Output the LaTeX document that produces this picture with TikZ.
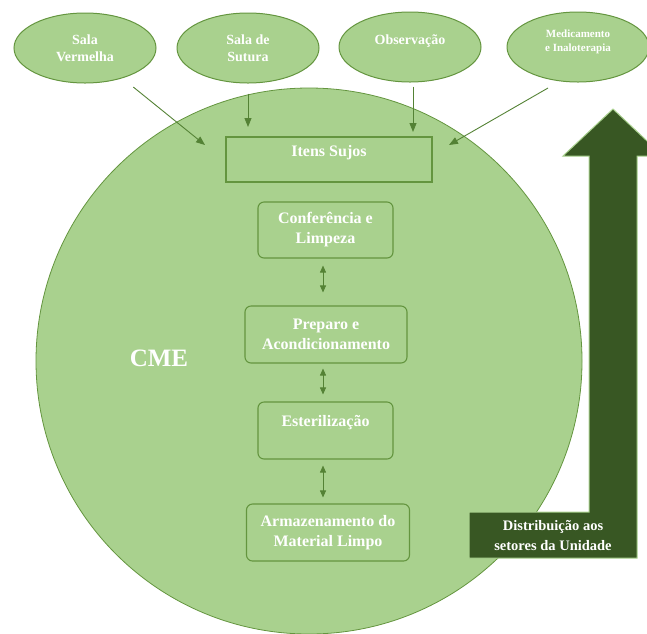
\documentclass[tikz,border=0pt]{standalone}
\usepackage{fontspec}
\setmainfont{Liberation Serif}
\usetikzlibrary{arrows.meta, shapes.geometric}
\definecolor{folha}{HTML}{A9D18E}
\definecolor{borda}{HTML}{64953F}
\definecolor{seta}{HTML}{548235}
\definecolor{escuro}{HTML}{385723}

\begin{document}
\begin{tikzpicture}[x=1pt, y=-1pt,
  setor/.style={draw=borda, fill=folha, ellipse, line width=1pt, minimum width=142pt, minimum height=70pt,
    text=white, align=center, font=\bfseries\fontsize{14}{17}\selectfont},
  etapa/.style={draw=borda, fill=folha, rounded corners=6pt, line width=1.1pt, minimum height=57pt,
    text=white, align=center, font=\bfseries\fontsize{16}{20}\selectfont},
  flow/.style={seta, line width=.9pt, -{Triangle[length=9pt,width=7pt]}},
  dflow/.style={seta, line width=.9pt, {Triangle[length=7pt,width=6pt]}-{Triangle[length=7pt,width=6pt]}}]

 \useasboundingbox (0,0) rectangle (647,633);

 % CME
 \draw[borda, fill=folha, line width=.8pt] (309,361) circle[radius=273pt];
 \node[text=white, font=\bfseries\fontsize{25}{30}\selectfont] (cme) at (159,358) {CME};

 % distribuicao
 \filldraw[escuro, draw=folha, line width=1pt] (637,558) -- (637,156) -- (663,156) -- (613,109) -- (563,156)
   -- (589,156) -- (589,512) -- (469,512) -- (469,558) -- cycle;
 \node[text=white, align=center, font=\bfseries\fontsize{14.5}{20}\selectfont] (dist) at (553,536)
   {Distribuição aos\\setores da Unidade};

 % setores
 \node[setor] (sv) at (85,48) {Sala\\Vermelha};
 \node[setor] (ss) at (248,48) {Sala de\\Sutura};
 \node[setor] (ob) at (410,47) {Observação\\[-2pt]\mbox{}};
 \node[setor, font=\bfseries\fontsize{11}{14}\selectfont] (md) at (578,47) {Medicamento\\e Inaloterapia\\[-2pt]\mbox{}};

 % etapas
 \node[etapa, rounded corners=0pt, minimum width=206pt, minimum height=45pt] (its) at (329,159.5) {Itens Sujos\\[-3pt]\mbox{}};
 \node[etapa, minimum width=135pt, minimum height=56pt] (conf) at (325.5,230) {Conferência e\\Limpeza};
 \node[etapa, minimum width=162pt] (prep) at (326,334.5) {Preparo e\\Acondicionamento};
 \node[etapa, minimum width=135pt] (est) at (325.5,430.5) {Esterilização\\\mbox{}};
 \node[etapa, minimum width=163pt] (arm) at (328,532.5) {Armazenamento do\\Material Limpo};

 \coordinate (in1) at (205,145);
 \coordinate (in2) at (248,127);
 \coordinate (in3) at (413,132);
 \coordinate (in4) at (449,145);
 \coordinate (m4) at (548,88);

 \draw[flow, shorten <=14pt] (sv) -- (in1);
 \draw[flow, shorten <=10pt] (ss.south) -- (in2);
 \draw[flow, shorten <=4pt] (in3 |- ob.south) -- (in3);
 \draw[flow] (m4) -- (in4);

 \draw[dflow, shorten <=7pt, shorten >=13pt] (323,0 |- conf.south) -- (323,0 |- prep.north);
 \draw[dflow, shorten <=5pt, shorten >=7pt] (323,0 |- prep.south) -- (323,0 |- est.north);
 \draw[dflow, shorten <=6pt, shorten >=6pt] (323,0 |- est.south) -- (323,0 |- arm.north);
\end{tikzpicture}
\end{document}
